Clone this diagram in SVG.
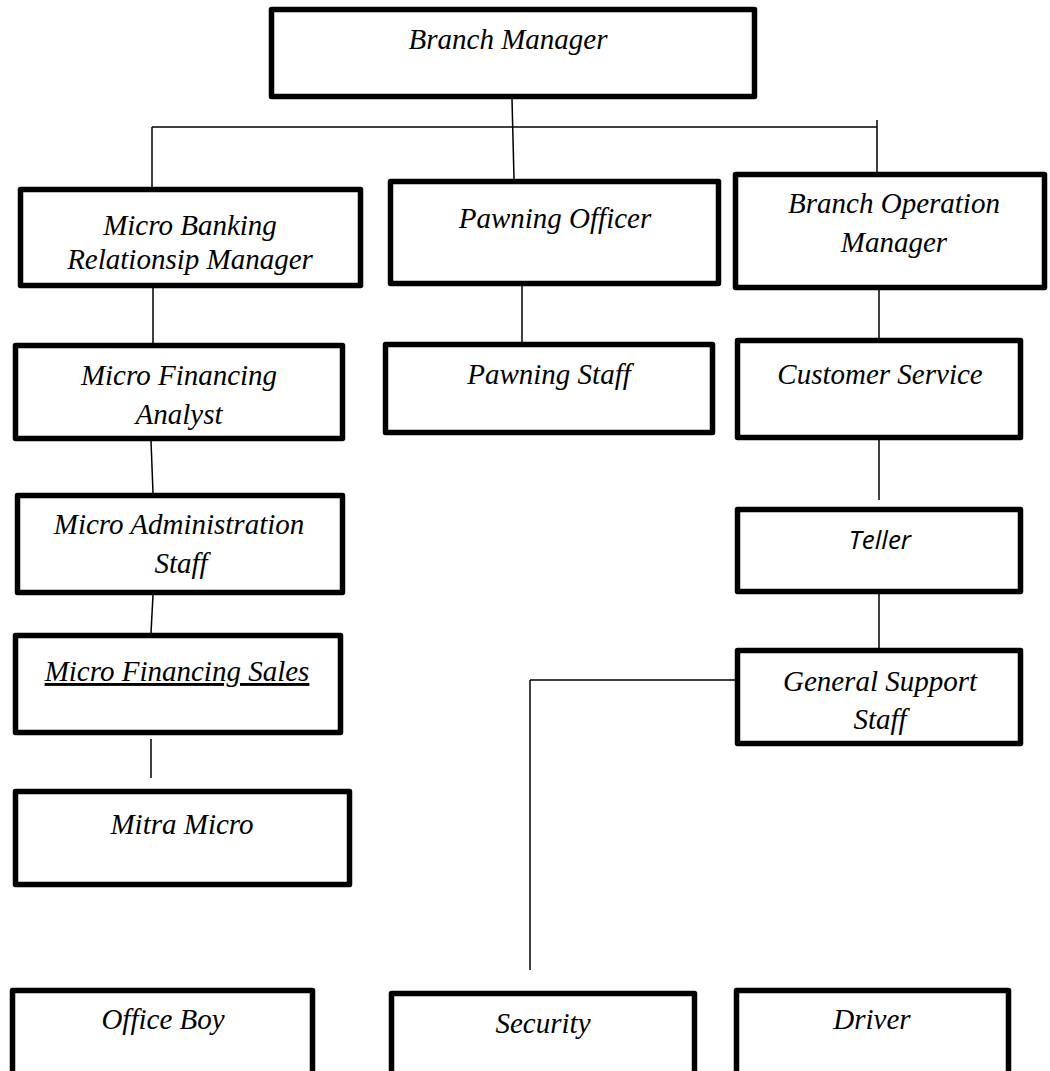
<svg xmlns="http://www.w3.org/2000/svg" width="1050" height="1071" viewBox="0 0 1050 1071">
<style>
.box{fill:#fff;stroke:#000;stroke-width:5.5;stroke-linejoin:round}
.lbl{font-family:"Liberation Serif","Times New Roman",serif;font-style:italic;font-size:29px;fill:#000;text-anchor:middle}
.sans{font-family:"Open Sans","Liberation Sans",sans-serif;font-style:italic;font-size:26px;fill:#000;text-anchor:middle}
.conn line{stroke:#000;stroke-width:1.5;fill:none}
</style>
<rect width="1050" height="1071" fill="#fff"/>
<g class="conn" id="connectors">
<line x1="512" y1="99" x2="514" y2="179"/>
<line x1="152" y1="127" x2="877" y2="127"/>
<line x1="152" y1="127" x2="152" y2="187"/>
<line x1="877" y1="120" x2="877" y2="172"/>
<line x1="153" y1="288" x2="153" y2="343"/>
<line x1="522" y1="286" x2="522" y2="342"/>
<line x1="879" y1="290" x2="879" y2="338"/>
<line x1="151" y1="441" x2="153" y2="493"/>
<line x1="879" y1="440" x2="879" y2="500"/>
<line x1="153" y1="595" x2="151" y2="633"/>
<line x1="151" y1="739" x2="151" y2="778"/>
<line x1="879" y1="594" x2="879" y2="648"/>
<line x1="530" y1="680" x2="735" y2="680"/>
<line x1="530" y1="680" x2="530" y2="970"/>
</g>
<g id="branch-manager"><rect class="box" x="271.5" y="9.5" width="483" height="87"/><text class="lbl" x="508" y="49">Branch Manager</text></g>
<g id="micro-banking-rm"><rect class="box" x="20.5" y="189.5" width="340" height="96"/><text class="lbl" x="190" y="235">Micro Banking</text><text class="lbl" x="190" y="269">Relationsip Manager</text></g>
<g id="pawning-officer"><rect class="box" x="390.5" y="181.5" width="328" height="102"/><text class="lbl" x="555" y="228">Pawning Officer</text></g>
<g id="branch-operation-manager"><rect class="box" x="735.5" y="174.5" width="309" height="113"/><text class="lbl" x="894" y="213">Branch Operation</text><text class="lbl" x="894" y="252">Manager</text></g>
<g id="micro-financing-analyst"><rect class="box" x="15.5" y="345.5" width="327" height="93"/><text class="lbl" x="179" y="385">Micro Financing</text><text class="lbl" x="179" y="424">Analyst</text></g>
<g id="pawning-staff"><rect class="box" x="385.5" y="344.5" width="327" height="88"/><text class="lbl" x="549" y="384">Pawning Staff</text></g>
<g id="customer-service"><rect class="box" x="737.5" y="340.5" width="283" height="97"/><text class="lbl" x="880" y="384">Customer Service</text></g>
<g id="micro-administration-staff"><rect class="box" x="17.5" y="495.5" width="325" height="97"/><text class="lbl" x="179" y="534">Micro Administration</text><text class="lbl" x="181" y="573">Staff</text></g>
<g id="teller"><rect class="box" x="737.5" y="509.5" width="283" height="82"/><text class="sans" x="880" y="549">Teller</text></g>
<g id="general-support-staff"><rect class="box" x="737.5" y="650.5" width="283" height="93"/><text class="lbl" x="880" y="691">General Support</text><text class="lbl" x="880" y="729">Staff</text></g>
<g id="micro-financing-sales"><rect class="box" x="15.5" y="635.5" width="325" height="97"/><text class="lbl" x="177" y="681" text-decoration="underline">Micro Financing Sales</text></g>
<g id="mitra-micro"><rect class="box" x="15.5" y="791.5" width="334" height="93"/><text class="lbl" x="182" y="834">Mitra Micro</text></g>
<g id="office-boy"><rect class="box" x="12.5" y="990.5" width="300" height="100"/><text class="lbl" x="163" y="1029">Office Boy</text></g>
<g id="security"><rect class="box" x="391.5" y="993.5" width="303" height="100"/><text class="lbl" x="543" y="1033">Security</text></g>
<g id="driver"><rect class="box" x="736.5" y="990.5" width="272" height="100"/><text class="lbl" x="872" y="1029">Driver</text></g>
</svg>
